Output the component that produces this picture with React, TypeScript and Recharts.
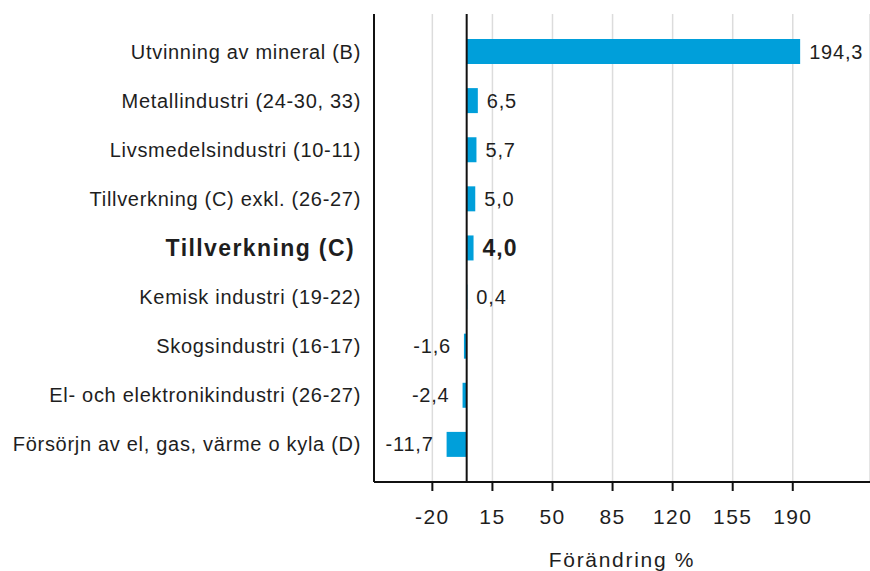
import React from 'react'
import { BarChart, Bar, XAxis, YAxis, CartesianGrid, ReferenceLine, LabelList } from 'recharts'

const CATEGORIES = [
    'Utvinning av mineral (B)',
    'Metallindustri (24-30, 33)',
    'Livsmedelsindustri (10-11)',
    'Tillverkning (C) exkl. (26-27)',
    'Tillverkning (C)',
    'Kemisk industri (19-22)',
    'Skogsindustri (16-17)',
    'El- och elektronikindustri (26-27)',
    'Försörjn av el, gas, värme o kyla (D)',
]
const VALUES = [194.3, 6.5, 5.7, 5.0, 4.0, 0.4, -1.6, -2.4, -11.7]
const HIGHLIGHT = 'Tillverkning (C)'
const X_TICKS = [-20, 15, 50, 85, 120, 155, 190]
const X_DOMAIN = [-54, 235]

const FONT = '"Liberation Sans", Arial, sans-serif'
const TEXT = '#1e1e1e'
const BAR = '#009fda'

const data = CATEGORIES.map((name, i) => ({ name, value: VALUES[i] }))

function fmt(v: number) { return v.toFixed(1).replace('.', ',') }

function CategoryTick(props: any) {
    const { x, y, payload } = props
    const bold = payload.value === HIGHLIGHT
    return (
        <text x={bold ? x - 6 : x} y={y + (bold ? 8 : 7)} textAnchor="end" fill={TEXT} fontFamily={FONT}
            fontSize={bold ? 23 : 20} fontWeight={bold ? 'bold' : 'normal'} letterSpacing={bold ? 1.4 : 0.7}>
            {payload.value}
        </text>
    )
}

function ValueTick(props: any) {
    const { x, y, payload } = props
    return (
        <text x={x} y={y + 31} textAnchor="middle" fill={TEXT} fontFamily={FONT} fontSize={21} letterSpacing={1.4}>
            {payload.value}
        </text>
    )
}

function BarValue(props: any) {
    const { x, y, width, height, value, index } = props
    const bold = CATEGORIES[index] === HIGHLIGHT
    const left = Math.min(x, x + width)
    const right = Math.max(x, x + width)
    const neg = value < 0
    return (
        <text x={neg ? left - 13 : right + 9} y={y + height / 2 + (bold ? 8 : 7)}
            textAnchor={neg ? 'end' : 'start'} fill={TEXT} fontFamily={FONT}
            fontSize={bold ? 23 : 20} fontWeight={bold ? 'bold' : 'normal'} letterSpacing={bold ? 1 : 0.8}>
            {fmt(value)}
        </text>
    )
}

export default function App() {
    return (
        <div style={{ width: 870, height: 571, background: '#fff' }}>
            <style>{'body{margin:0}'}</style>
            <BarChart width={870} height={571} data={data} layout="vertical"
                margin={{ top: 14, right: 0, left: 0, bottom: 0 }}>
                <CartesianGrid horizontal={false} stroke="#dcdcdc" strokeWidth={1.5} />
                <XAxis type="number" domain={X_DOMAIN} ticks={X_TICKS} allowDataOverflow
                    height={89} tickSize={9} axisLine={{ stroke: '#111', strokeWidth: 2 }}
                    tickLine={{ stroke: '#111', strokeWidth: 2 }} tick={<ValueTick />}
                    label={{ value: 'Förändring %', position: 'insideBottom', offset: 4, fill: TEXT,
                        fontFamily: FONT, fontSize: 21, letterSpacing: 1.7 }} />
                <YAxis type="category" dataKey="name" width={374} tickSize={0} tickMargin={13}
                    padding={{ top: 13, bottom: 13 }} axisLine={{ stroke: '#111', strokeWidth: 2 }}
                    tickLine={false} tick={<CategoryTick />} interval={0} />
                <ReferenceLine x={0} stroke="#111" strokeWidth={2} />
                <Bar dataKey="value" fill={BAR} barSize={25} isAnimationActive={false}>
                    <LabelList dataKey="value" content={<BarValue />} />
                </Bar>
            </BarChart>
        </div>
    )
}
